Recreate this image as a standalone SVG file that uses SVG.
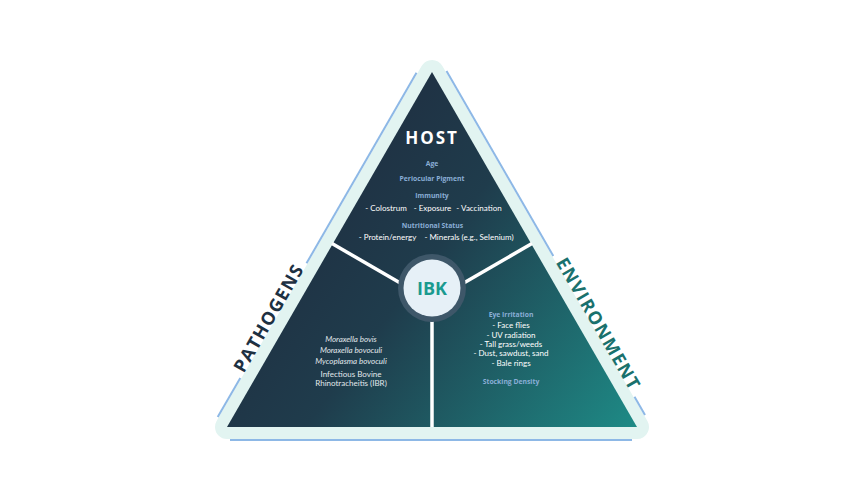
<svg xmlns="http://www.w3.org/2000/svg" width="864" height="504" viewBox="0 0 864 504">
<defs>
<linearGradient id="tri" gradientUnits="userSpaceOnUse" x1="330" y1="200" x2="640" y2="430">
<stop offset="0" stop-color="#1f3244"/>
<stop offset="0.3" stop-color="#1f3c4c"/>
<stop offset="1" stop-color="#1e8c87"/>
</linearGradient>
<style>
.h{font-family:"Open Sans",sans-serif;font-weight:700;font-size:6.8px;fill:#8aaed6;text-anchor:middle}
.b{font-family:Lato,"Open Sans",sans-serif;font-size:8px;fill:#ffffff;text-anchor:middle}
.p{font-family:Lato,"Open Sans",sans-serif;font-size:8px;fill:#e2e8ec;text-anchor:middle}
.lab{font-family:"Open Sans",sans-serif;font-weight:700;font-size:18px;letter-spacing:1.3px;text-anchor:middle}
.bl{stroke:#8db8e6;stroke-width:2;fill:none}
.div{stroke:#ffffff;stroke-width:3.5;fill:none}
</style>
</defs>
<rect width="864" height="504" fill="#ffffff"/>
<g id="frame">
<path d="M432 72 L637 427 L227 427 Z" fill="#e2f4f1" stroke="#e2f4f1" stroke-width="24" stroke-linejoin="round"/>
<line class="bl" x1="416.5" y1="72.7" x2="306.5" y2="263.3"/>
<line class="bl" x1="240.3" y1="378" x2="217.7" y2="417"/>
<line class="bl" x1="446.5" y1="71" x2="553.3" y2="256"/>
<line class="bl" x1="634.5" y1="396.7" x2="645" y2="415"/>
<line class="bl" x1="230" y1="440" x2="632" y2="440"/>
<path d="M432 72 L637 427 L227 427 Z" fill="url(#tri)"/>
</g>
<g id="connectors">
<line class="div" x1="332" y1="243.5" x2="402" y2="284"/>
<line class="div" x1="532" y1="243.5" x2="462" y2="284"/>
<line class="div" x1="432" y1="310" x2="432" y2="427"/>
</g>
<g id="host">
<text x="432" y="144" font-family="'Open Sans',sans-serif" font-weight="700" font-size="17" letter-spacing="2" fill="#ffffff" text-anchor="middle">HOST</text>
<text class="h" x="432" y="166">Age</text>
<text class="h" x="432" y="181">Periocular Pigment</text>
<text class="h" x="432" y="197.5">Immunity</text>
<text class="b" x="386" y="211">- Colostrum</text>
<text class="b" x="432.5" y="211">- Exposure</text>
<text class="b" x="479" y="211">- Vaccination</text>
<text class="h" x="432.5" y="227.5">Nutritional Status</text>
<text class="b" x="387.5" y="240">- Protein/energy</text>
<text class="b" x="469" y="240">- Minerals (e.g., Selenium)</text>
</g>
<g id="pathogens">
<text class="lab" fill="#1e3142" transform="translate(274.2,321.2) rotate(-60)">PATHOGENS</text>
<text class="p" x="351" y="341.7" font-style="italic">Moraxella bovis</text>
<text class="p" x="351" y="353" font-style="italic">Moraxella bovoculi</text>
<text class="p" x="351" y="364.3" font-style="italic">Mycoplasma bovoculi</text>
<text class="p" x="351" y="377.3">Infectious Bovine</text>
<text class="p" x="351" y="385.9">Rhinotracheitis (IBR)</text>
</g>
<g id="environment">
<text class="lab" fill="#1a716d" transform="translate(593,327) rotate(60)">ENVIRONMENT</text>
<text class="h" x="511" y="316.7">Eye Irritation</text>
<text class="b" x="511" y="328.3">- Face flies</text>
<text class="b" x="511" y="337.7">- UV radiation</text>
<text class="b" x="511" y="347">- Tall grass/weeds</text>
<text class="b" x="511" y="356.3">- Dust, sawdust, sand</text>
<text class="b" x="511" y="365.7">- Bale rings</text>
<text class="h" x="511" y="384.3">Stocking Density</text>
</g>
<g id="ibk">
<circle cx="432" cy="288" r="34" fill="#3e5769"/>
<circle cx="432" cy="288" r="28.5" fill="#e6f0f7"/>
<text x="432" y="294.5" font-family="'Open Sans',sans-serif" font-weight="700" font-size="18" fill="#1a9a8f" text-anchor="middle">IBK</text>
</g>
</svg>
